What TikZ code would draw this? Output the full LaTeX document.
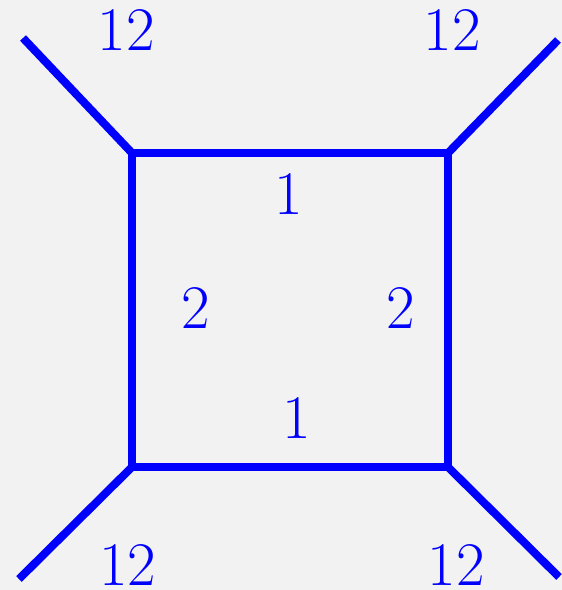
\documentclass[tikz,border=0pt]{standalone}
\usepackage{xcolor}
\definecolor{bg}{HTML}{F2F2F2}
\definecolor{edge}{HTML}{0000FF}
\usepackage{tikz}

\begin{document}
\begin{tikzpicture}[x=1pt,y=-1pt,
    leg/.style={edge, line width=8pt},
    lbl/.style={text=edge, anchor=base, inner sep=0pt, font=\fontsize{62}{70}\selectfont}]
  % page
  \fill[bg] (0,0) rectangle (562,590);
  \useasboundingbox (0,0) rectangle (562,590);
  % box corners
  \coordinate (tl) at (132,153);
  \coordinate (tr) at (448,153);
  \coordinate (br) at (448,467);
  \coordinate (bl) at (132,467);
  % external ends
  \coordinate (etl) at (23,38);
  \coordinate (etr) at (558,40);
  \coordinate (ebr) at (559,577);
  \coordinate (ebl) at (19,579);
  % box and legs
  \draw[leg, line join=round] (tl) -- (tr) -- (br) -- (bl) -- cycle;
  \draw[leg] (tl) -- (etl);
  \draw[leg] (tr) -- (etr);
  \draw[leg] (br) -- (ebr);
  \draw[leg] (bl) -- (ebl);
  % labels
  \node[lbl] (ltl) at (126,50) {12};
  \node[lbl] (ltr) at (452,50) {12};
  \node[lbl] (lbl) at (128,585) {12};
  \node[lbl] (lbr) at (456,585) {12};
  \node[lbl] (top) at (289,214) {1};
  \node[lbl] (bot) at (297,438) {1};
  \node[lbl] (lft) at (196,328) {2};
  \node[lbl] (rgt) at (401,328) {2};
\end{tikzpicture}
\end{document}
